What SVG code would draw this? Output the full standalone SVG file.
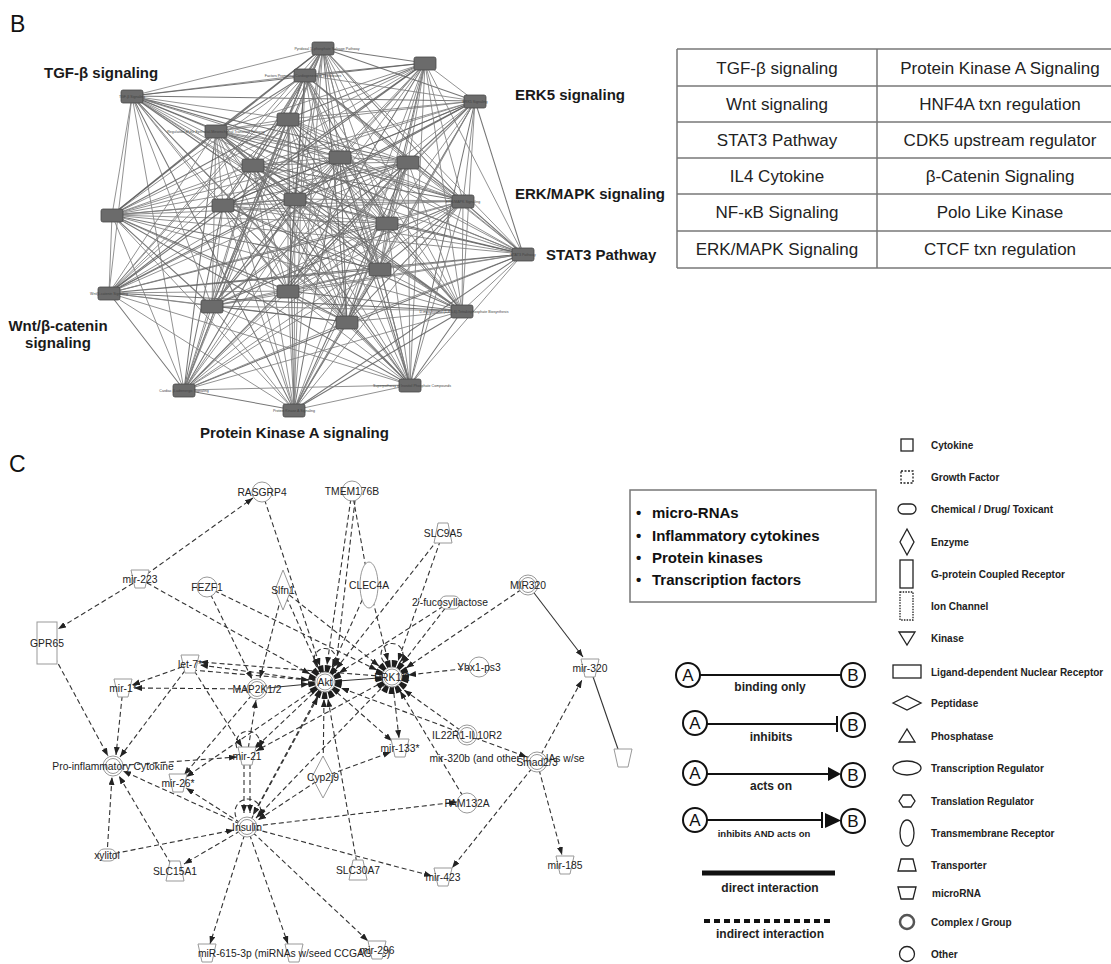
<svg xmlns="http://www.w3.org/2000/svg" width="1111" height="964" viewBox="0 0 1111 964">
<style>
text{font-family:"Liberation Sans",Arial,sans-serif}
.pl{font-size:23px;fill:#111}
.bl{font-size:15px;font-weight:bold;fill:#1a1a1a}
.ne{fill:none;stroke:#808080;stroke-width:.95;stroke-linejoin:round;opacity:.9}
.ne2{fill:none;stroke:#5e5e5e;stroke-width:1.05;stroke-linejoin:round;opacity:.85}
.nn{fill:#6b6b6b;stroke:#4a4a4a;stroke-width:.8}
.tl{font-size:3.6px;fill:#444;text-anchor:middle}
.tb{stroke:#777;stroke-width:1.5}
.tt{font-size:17px;fill:#222;text-anchor:middle}
.d{fill:none;stroke:#333;stroke-width:1.1;stroke-dasharray:5 3}
.s{fill:none;stroke:#333;stroke-width:1.1}
.nd{fill:#fff;stroke:#999;stroke-width:1}
.lb{font-size:10.3px;fill:#222;text-anchor:middle}
.lg{fill:none;stroke:#222;stroke-width:1.3}
.lt{font-size:10px;font-weight:bold;fill:#222}
.it{font-size:12px;font-weight:bold;fill:#222;text-anchor:middle}
.ab{fill:#fff;stroke:#111;stroke-width:2}
.abt{font-size:17px;fill:#111;text-anchor:middle}
.bx{font-size:15px;font-weight:bold;fill:#111}
</style>
<defs>
<marker id="a" markerWidth="8" markerHeight="6" refX="8" refY="3" orient="auto" markerUnits="userSpaceOnUse"><path d="M0 0L8 3L0 6Z" fill="#222"/></marker>
<path id="mir" d="M-9-9H9L5 9H-5Z" class="nd"/>
<path id="trn" d="M-5-10H5L9 10H-9Z" class="nd"/>
<circle id="oth" r="10" class="nd"/>
<g id="cpx"><circle r="10" class="nd"/><circle r="7.5" class="nd"/></g>
</defs>

<!-- Panel B -->
<text x="10" y="32" class="pl">B</text>
<g id="net-edges">
<polygon class="ne" points="295,199 323,48 305,75 410,385 425,63 294,410 475,101 184,390 132,96 462,311 288,119 347,322 216,131 212,306 253,165 288,291 340,157 109,293 408,162 523,254 223,205 380,269 387,223 112,215 463,201"/>
<polygon class="ne2" points="295,199 305,75 425,63 323,48 475,101 410,385 132,96 294,410 288,119 184,390 216,131 462,311 253,165 347,322 340,157 212,306 408,162 288,291 223,205 109,293 387,223 523,254 463,201 380,269 112,215"/>
<polygon class="ne" points="295,199 425,63 475,101 305,75 132,96 323,48 288,119 410,385 216,131 294,410 253,165 184,390 340,157 462,311 408,162 347,322 223,205 212,306 387,223 288,291 463,201 109,293 112,215 523,254 380,269"/>
<polygon class="ne2" points="295,199 475,101 132,96 425,63 288,119 305,75 216,131 323,48 253,165 410,385 340,157 294,410 408,162 184,390 223,205 462,311 387,223 347,322 463,201 212,306 112,215 288,291 380,269 109,293 523,254"/>
<polygon class="ne" points="295,199 132,96 288,119 475,101 216,131 425,63 253,165 305,75 340,157 323,48 408,162 410,385 223,205 294,410 387,223 184,390 463,201 462,311 112,215 347,322 380,269 212,306 523,254 288,291 109,293"/>
<polygon class="ne" points="295,199 288,119 216,131 132,96 253,165 475,101 340,157 425,63 408,162 305,75 223,205 323,48 387,223 410,385 463,201 294,410 112,215 184,390 380,269 462,311 523,254 347,322 109,293 212,306 288,291"/>
<polygon class="ne2" points="295,199 216,131 253,165 288,119 340,157 132,96 408,162 475,101 223,205 425,63 387,223 305,75 463,201 323,48 112,215 410,385 380,269 294,410 523,254 184,390 109,293 462,311 288,291 347,322 212,306"/>
<polygon class="ne" points="295,199 253,165 340,157 216,131 408,162 288,119 223,205 132,96 387,223 475,101 463,201 425,63 112,215 305,75 380,269 323,48 523,254 410,385 109,293 294,410 288,291 184,390 212,306 462,311 347,322"/>
<polygon class="ne" points="295,199 340,157 408,162 253,165 223,205 216,131 387,223 288,119 463,201 132,96 112,215 475,101 380,269 425,63 523,254 305,75 109,293 323,48 288,291 410,385 212,306 294,410 347,322 184,390 462,311"/>
<polygon class="ne2" points="295,199 408,162 223,205 340,157 387,223 253,165 463,201 216,131 112,215 288,119 380,269 132,96 523,254 475,101 109,293 425,63 288,291 305,75 212,306 323,48 347,322 410,385 462,311 294,410 184,390"/>
<polygon class="ne" points="295,199 223,205 387,223 408,162 463,201 340,157 112,215 253,165 380,269 216,131 523,254 288,119 109,293 132,96 288,291 475,101 212,306 425,63 347,322 305,75 462,311 323,48 184,390 410,385 294,410"/>
<polygon class="ne" points="295,199 387,223 463,201 223,205 112,215 408,162 380,269 340,157 523,254 253,165 109,293 216,131 288,291 288,119 212,306 132,96 347,322 475,101 462,311 425,63 184,390 305,75 294,410 323,48 410,385"/>
</g>
<g id="net-nodes">
<rect class="nn" x="312" y="42" width="22" height="13" rx="2"/>
<rect class="nn" x="294" y="69" width="22" height="13" rx="2"/>
<rect class="nn" x="414" y="57" width="22" height="13" rx="2"/>
<rect class="nn" x="464" y="95" width="22" height="13" rx="2"/>
<rect class="nn" x="121" y="90" width="22" height="13" rx="2"/>
<rect class="nn" x="277" y="113" width="22" height="13" rx="2"/>
<rect class="nn" x="205" y="125" width="22" height="13" rx="2"/>
<rect class="nn" x="242" y="159" width="22" height="13" rx="2"/>
<rect class="nn" x="329" y="151" width="22" height="13" rx="2"/>
<rect class="nn" x="397" y="156" width="22" height="13" rx="2"/>
<rect class="nn" x="212" y="199" width="22" height="13" rx="2"/>
<rect class="nn" x="284" y="193" width="22" height="13" rx="2"/>
<rect class="nn" x="376" y="217" width="22" height="13" rx="2"/>
<rect class="nn" x="452" y="195" width="22" height="13" rx="2"/>
<rect class="nn" x="101" y="209" width="22" height="13" rx="2"/>
<rect class="nn" x="369" y="263" width="22" height="13" rx="2"/>
<rect class="nn" x="512" y="248" width="22" height="13" rx="2"/>
<rect class="nn" x="98" y="287" width="22" height="13" rx="2"/>
<rect class="nn" x="277" y="285" width="22" height="13" rx="2"/>
<rect class="nn" x="201" y="300" width="22" height="13" rx="2"/>
<rect class="nn" x="336" y="316" width="22" height="13" rx="2"/>
<rect class="nn" x="451" y="305" width="22" height="13" rx="2"/>
<rect class="nn" x="173" y="384" width="22" height="13" rx="2"/>
<rect class="nn" x="283" y="404" width="22" height="13" rx="2"/>
<rect class="nn" x="399" y="379" width="22" height="13" rx="2"/>
<text class="tl" x="327" y="50">Pyridoxal 5'-phosphate Salvage Pathway</text>
<text class="tl" x="303" y="77">Factors Promoting Cardiogenesis in Vertebrates</text>
<text class="tl" x="132" y="98">TGF-β Signaling</text>
<text class="tl" x="216" y="133">Regulation of the Epithelial-Mesenchymal Transition Pathway</text>
<text class="tl" x="475" y="103">ERK5 Signaling</text>
<text class="tl" x="463" y="203">ERK/MAPK Signaling</text>
<text class="tl" x="523" y="256">STAT3 Pathway</text>
<text class="tl" x="109" y="295">Wnt/β-catenin Signaling</text>
<text class="tl" x="184" y="392">Cardiac β-adrenergic Signaling</text>
<text class="tl" x="294" y="412">Protein Kinase A Signaling</text>
<text class="tl" x="464" y="313">D-myo-inositol (1,4,5,6)-Tetrakisphosphate Biosynthesis</text>
<text class="tl" x="412" y="387">Superpathway of Inositol Phosphate Compounds</text>
</g>
<g id="b-labels">
<text x="44" y="78" class="bl">TGF-β signaling</text>
<text x="515" y="100" class="bl">ERK5 signaling</text>
<text x="515" y="199" class="bl">ERK/MAPK signaling</text>
<text x="546" y="260" class="bl">STAT3 Pathway</text>
<text x="58" y="331" class="bl" text-anchor="middle">Wnt/β-catenin</text>
<text x="58" y="348" class="bl" text-anchor="middle">signaling</text>
<text x="200" y="438" class="bl">Protein Kinase A signaling</text>
</g>
<g id="table">
<line class="tb" x1="677" y1="49" x2="1111" y2="49"/>
<line class="tb" x1="677" y1="86" x2="1111" y2="86"/>
<line class="tb" x1="677" y1="122" x2="1111" y2="122"/>
<line class="tb" x1="677" y1="158" x2="1111" y2="158"/>
<line class="tb" x1="677" y1="194" x2="1111" y2="194"/>
<line class="tb" x1="677" y1="231" x2="1111" y2="231"/>
<line class="tb" x1="677" y1="268" x2="1111" y2="268"/>
<line class="tb" x1="677" y1="49" x2="677" y2="268"/>
<line class="tb" x1="877" y1="49" x2="877" y2="268"/>
<text class="tt" x="777" y="74">TGF-β signaling</text>
<text class="tt" x="1000" y="74">Protein Kinase A Signaling</text>
<text class="tt" x="777" y="110">Wnt signaling</text>
<text class="tt" x="1000" y="110">HNF4A txn regulation</text>
<text class="tt" x="777" y="146">STAT3 Pathway</text>
<text class="tt" x="1000" y="146">CDK5 upstream regulator</text>
<text class="tt" x="777" y="182">IL4 Cytokine</text>
<text class="tt" x="1000" y="182">β-Catenin Signaling</text>
<text class="tt" x="777" y="218">NF-κB Signaling</text>
<text class="tt" x="1000" y="218">Polo Like Kinase</text>
<text class="tt" x="777" y="255">ERK/MAPK Signaling</text>
<text class="tt" x="1000" y="255">CTCF txn regulation</text>
</g>

<!-- Panel C -->
<text x="9" y="472" class="pl">C</text>
<g id="connectors">
<path class="d" d="M140 579L253 498" marker-end="url(#a)"/>
<path class="d" d="M140 579L58 629" marker-end="url(#a)"/>
<path class="d" d="M262 492L320 666" marker-end="url(#a)"/>
<path class="d" d="M140 579L310 674" marker-end="url(#a)"/>
<path class="d" d="M207 587L252 679" marker-end="url(#a)"/>
<path class="d" d="M207 587L377 670" marker-end="url(#a)"/>
<path class="d" d="M283 590L260 678" marker-end="url(#a)"/>
<path class="d" d="M283 590L318 667" marker-end="url(#a)"/>
<path class="d" d="M283 590L379 666" marker-end="url(#a)"/>
<path class="d" d="M352 491L327 665" marker-end="url(#a)"/>
<path class="d" d="M356 492L336 666" marker-end="url(#a)"/>
<path class="d" d="M352 491L369 585"/>
<path class="d" d="M369 585L388 661" marker-end="url(#a)"/>
<path class="d" d="M369 585L332 667" marker-end="url(#a)"/>
<path class="d" d="M443 533L336 669" marker-end="url(#a)"/>
<path class="d" d="M443 533L398 661" marker-end="url(#a)"/>
<path class="d" d="M450 602L402 664" marker-end="url(#a)"/>
<path class="d" d="M450 602L339 673" marker-end="url(#a)"/>
<path class="d" d="M528 585L406 668" marker-end="url(#a)"/>
<path class="s" d="M528 585L583 657" marker-end="url(#a)"/>
<path class="d" d="M479 667L408 675" marker-end="url(#a)"/>
<path class="d" d="M537 762L582 680" marker-end="url(#a)"/>
<path class="s" d="M590 668L619 752"/>
<path class="s" d="M325 682L392 677" stroke-width="1.6"/>
<path class="s" d="M257 689L309 684" marker-end="url(#a)"/>
<path class="d" d="M325 682L200 665" marker-end="url(#a)"/>
<path class="d" d="M392 677L200 662" marker-end="url(#a)"/>
<path class="d" d="M192 670L309 680" marker-end="url(#a)"/>
<path class="d" d="M257 689L134 688" marker-end="url(#a)"/>
<path class="d" d="M190 664L132 685" marker-end="url(#a)"/>
<path class="d" d="M123 688L116 755" marker-end="url(#a)"/>
<path class="d" d="M47 643L108 756" marker-end="url(#a)"/>
<path class="d" d="M190 664L120 757" marker-end="url(#a)"/>
<path class="d" d="M113 766L237 757" marker-end="url(#a)"/>
<path class="d" d="M247 827L123 771" marker-end="url(#a)"/>
<path class="d" d="M107 855L112 777" marker-end="url(#a)"/>
<path class="d" d="M175 871L119 776" marker-end="url(#a)"/>
<path class="d" d="M107 855L234 830" marker-end="url(#a)"/>
<path class="d" d="M247 827L184 864" marker-end="url(#a)"/>
<path class="d" d="M247 827L186 788" marker-end="url(#a)"/>
<path class="d" d="M257 689L184 775" marker-end="url(#a)"/>
<path class="d" d="M325 682L186 777" marker-end="url(#a)"/>
<path class="d" d="M247 756L256 700" marker-end="url(#a)"/>
<path class="d" d="M244 756L244 813" marker-end="url(#a)"/>
<path class="d" d="M250 756L250 813" marker-end="url(#a)"/>
<path class="d" d="M325 682L254 749" marker-end="url(#a)"/>
<path class="d" d="M392 677L256 751" marker-end="url(#a)"/>
<path class="d" d="M190 664L242 747" marker-end="url(#a)"/>
<path class="d" d="M325 682L253 815" marker-end="url(#a)"/>
<path class="d" d="M392 677L256 818" marker-end="url(#a)"/>
<path class="d" d="M247 827L318 697" marker-end="url(#a)"/>
<path class="d" d="M323 777L324 699" marker-end="url(#a)"/>
<path class="d" d="M323 777L258 820" marker-end="url(#a)"/>
<path class="d" d="M323 777L391 752" marker-end="url(#a)"/>
<path class="d" d="M325 682L392 741" marker-end="url(#a)"/>
<path class="d" d="M392 677L399 738" marker-end="url(#a)"/>
<path class="d" d="M467 735L404 690" marker-end="url(#a)"/>
<path class="d" d="M467 735L341 688" marker-end="url(#a)"/>
<path class="d" d="M467 735L527 757" marker-end="url(#a)"/>
<path class="d" d="M467 803L400 691" marker-end="url(#a)"/>
<path class="d" d="M247 827L457 802" marker-end="url(#a)"/>
<path class="d" d="M358 870L328 699" marker-end="url(#a)"/>
<path class="d" d="M247 827L432 876" marker-end="url(#a)"/>
<path class="d" d="M537 762L452 868" marker-end="url(#a)"/>
<path class="d" d="M537 762L562 855" marker-end="url(#a)"/>
<path class="d" d="M247 827L368 941" marker-end="url(#a)"/>
<path class="d" d="M247 827L288 944" marker-end="url(#a)"/>
<path class="d" d="M247 827L210 944" marker-end="url(#a)"/>
<path class="d" d="M317 667A11 11 0 1 1 333 667" marker-end="url(#a)"/>
<path class="d" d="M384 662A11 11 0 1 1 400 662" marker-end="url(#a)"/>
<path class="d" d="M237 748A12 12 0 1 1 259 748" marker-end="url(#a)"/>
<path class="d" d="M236 817A13 13 0 1 1 260 817" marker-end="url(#a)"/>
</g>

<g id="n-rasgrp4"><use href="#oth" x="262" y="492"/><text class="lb" x="262" y="496">RASGRP4</text></g>
<g id="n-tmem176b"><use href="#oth" x="352" y="491"/><text class="lb" x="352" y="495">TMEM176B</text></g>
<g id="n-mir223"><use href="#mir" x="140" y="579"/><text class="lb" x="140" y="583">mir-223</text></g>
<g id="n-fezf1"><use href="#oth" x="207" y="587"/><text class="lb" x="207" y="591">FEZF1</text></g>
<g id="n-slfn1"><path class="nd" d="M283 570L291 590L283 610L275 590Z"/><text class="lb" x="283" y="594">Slfn1</text></g>
<g id="n-gpr65"><rect class="nd" x="37" y="622" width="20" height="42"/><text class="lb" x="47" y="647">GPR65</text></g>
<g id="n-clec4a"><ellipse class="nd" cx="369" cy="585" rx="9" ry="23"/><text class="lb" x="369" y="589">CLEC4A</text></g>
<g id="n-slc9a5"><use href="#trn" x="443" y="533"/><text class="lb" x="443" y="537">SLC9A5</text></g>
<g id="n-fuc"><rect class="nd" x="440" y="596" width="20" height="13" rx="6"/><text class="lb" x="450" y="606">2'-fucosyllactose</text></g>
<g id="n-mir320cpx"><use href="#cpx" x="528" y="585"/><text class="lb" x="528" y="589">MIR320</text></g>
<g id="n-let7"><use href="#mir" x="190" y="664"/><text class="lb" x="190" y="668">let-7*</text></g>
<g id="n-mir1"><use href="#mir" x="123" y="688"/><text class="lb" x="123" y="692">mir-1*</text></g>
<g id="n-map2k"><use href="#cpx" x="257" y="689"/><text class="lb" x="257" y="693">MAP2K1/2</text></g>
<g id="n-akt"><circle cx="325" cy="682" r="13.5" fill="none" stroke="#1e1e1e" stroke-width="7" stroke-dasharray="5 1.3"/><circle class="nd" cx="325" cy="682" r="10"/><circle class="nd" cx="325" cy="682" r="8"/><text class="lb" x="325" y="686">Akt</text></g>
<g id="n-erk"><circle cx="392" cy="677" r="13.5" fill="none" stroke="#1e1e1e" stroke-width="7" stroke-dasharray="5 1.3"/><circle class="nd" cx="392" cy="677" r="10"/><circle class="nd" cx="392" cy="677" r="8"/><text class="lb" x="392" y="681">ERK1/2</text></g>
<g id="n-ybx1"><use href="#oth" x="479" y="667"/><text class="lb" x="479" y="671">Ybx1-ps3</text></g>
<g id="n-mir320"><use href="#mir" x="590" y="668"/><text class="lb" x="590" y="672">mir-320</text></g>
<g id="n-pic"><use href="#cpx" x="113" y="766"/><text class="lb" x="113" y="770">Pro-inflammatory Cytokine</text></g>
<g id="n-mir21"><use href="#mir" x="247" y="756"/><text class="lb" x="247" y="760">mir-21</text></g>
<g id="n-mir26"><use href="#mir" x="178" y="783"/><text class="lb" x="178" y="787">mir-26*</text></g>
<g id="n-cyp2j9"><path class="nd" d="M323 756L334 777L323 798L312 777Z"/><text class="lb" x="323" y="781">Cyp2j9</text></g>
<g id="n-mir133"><use href="#mir" x="400" y="748"/><text class="lb" x="400" y="752">mir-133*</text></g>
<g id="n-il22r1"><use href="#cpx" x="467" y="735"/><text class="lb" x="467" y="739">IL22R1-IL10R2</text></g>
<g id="n-mir320b"><use href="#mir" x="623" y="758"/><text class="lb" x="507" y="762" text-anchor="start">mir-320b (and other miRNAs w/se</text></g>
<g id="n-smad"><use href="#cpx" x="537" y="762"/><text class="lb" x="537" y="766">Smad2/3</text></g>
<g id="n-fam132a"><use href="#oth" x="467" y="803"/><text class="lb" x="467" y="807">FAM132A</text></g>
<g id="n-insulin"><use href="#cpx" x="247" y="827"/><text class="lb" x="247" y="831">Insulin</text></g>
<g id="n-xylitol"><rect class="nd" x="98" y="849" width="18" height="12" rx="6"/><text class="lb" x="107" y="859">xylitol</text></g>
<g id="n-slc15a1"><use href="#trn" x="175" y="871"/><text class="lb" x="175" y="875">SLC15A1</text></g>
<g id="n-slc30a7"><use href="#trn" x="358" y="870"/><text class="lb" x="358" y="874">SLC30A7</text></g>
<g id="n-mir423"><use href="#mir" x="443" y="877"/><text class="lb" x="443" y="881">mir-423</text></g>
<g id="n-mir185"><use href="#mir" x="565" y="865"/><text class="lb" x="565" y="869">mir-185</text></g>
<g id="n-mira"><use href="#mir" x="207" y="953"/></g>
<g id="n-mir615"><use href="#mir" x="294" y="953"/><text class="lb" x="294" y="957">miR-615-3p (miRNAs w/seed CCGAGCC)</text></g>
<g id="n-mir296"><use href="#mir" x="377" y="950"/><text class="lb" x="377" y="954">mir-296</text></g>

<!-- Legend box -->
<g id="legend-box">
<rect x="630" y="490" width="246" height="112" fill="#fff" stroke="#777" stroke-width="1.5"/>
<text class="bx" x="636" y="518">•</text><text class="bx" x="652" y="518">micro-RNAs</text>
<text class="bx" x="636" y="541">•</text><text class="bx" x="652" y="541">Inflammatory cytokines</text>
<text class="bx" x="636" y="563">•</text><text class="bx" x="652" y="563">Protein kinases</text>
<text class="bx" x="636" y="585">•</text><text class="bx" x="652" y="585">Transcription factors</text>
</g>

<!-- Interaction legend -->
<g id="legend-edges">
<line x1="700" y1="675" x2="841" y2="675" stroke="#111" stroke-width="2"/>
<circle class="ab" cx="688" cy="675" r="12"/><text class="abt" x="688" y="681">A</text>
<circle class="ab" cx="853" cy="675" r="12"/><text class="abt" x="853" y="681">B</text>
<text class="it" x="770" y="691">binding only</text>

<line x1="707" y1="724" x2="837" y2="724" stroke="#111" stroke-width="2"/>
<line x1="837" y1="716" x2="837" y2="732" stroke="#111" stroke-width="2"/>
<circle class="ab" cx="695" cy="723" r="12"/><text class="abt" x="695" y="729">A</text>
<circle class="ab" cx="853" cy="725" r="12"/><text class="abt" x="853" y="731">B</text>
<text class="it" x="771" y="741">inhibits</text>

<line x1="707" y1="774" x2="830" y2="774" stroke="#111" stroke-width="2"/>
<path d="M828 767L841 774L828 781Z" fill="#111"/>
<circle class="ab" cx="695" cy="773" r="12"/><text class="abt" x="695" y="779">A</text>
<circle class="ab" cx="853" cy="775" r="12"/><text class="abt" x="853" y="781">B</text>
<text class="it" x="771" y="790">acts on</text>

<line x1="707" y1="820" x2="822" y2="820" stroke="#111" stroke-width="2"/>
<line x1="822" y1="812" x2="822" y2="828" stroke="#111" stroke-width="2"/>
<path d="M825 813L841 820.5L825 828Z" fill="#111"/>
<circle class="ab" cx="695" cy="820" r="12"/><text class="abt" x="695" y="826">A</text>
<circle class="ab" cx="853" cy="821" r="12"/><text class="abt" x="853" y="827">B</text>
<text class="it" x="764" y="837" style="font-size:9.5px">inhibits AND acts on</text>

<line x1="702" y1="873" x2="835" y2="873" stroke="#111" stroke-width="5"/>
<text class="it" x="770" y="892">direct interaction</text>
<line x1="704" y1="921" x2="833" y2="921" stroke="#111" stroke-width="4" stroke-dasharray="6 4"/>
<text class="it" x="770" y="938">indirect interaction</text>
</g>

<!-- Shape legend -->
<g id="legend-shapes">
<rect class="lg" x="901" y="439" width="12" height="12"/><text class="lt" x="931" y="449">Cytokine</text>
<rect class="lg" x="901" y="471" width="12" height="12" stroke-dasharray="2 1.5"/><text class="lt" x="931" y="481">Growth Factor</text>
<rect class="lg" x="898" y="504" width="18" height="10" rx="5"/><text class="lt" x="931" y="513">Chemical / Drug/ Toxicant</text>
<path class="lg" d="M907 529L914 542L907 555L900 542Z"/><text class="lt" x="931" y="546">Enzyme</text>
<rect class="lg" x="900" y="560" width="13" height="28"/><text class="lt" x="931" y="578">G-protein Coupled Receptor</text>
<rect class="lg" x="900" y="592" width="13" height="28" stroke-dasharray="1.5 1.2"/><text class="lt" x="931" y="610">Ion Channel</text>
<path class="lg" d="M899 632H915L907 645Z"/><text class="lt" x="931" y="642">Kinase</text>
<rect class="lg" x="893" y="665" width="28" height="13"/><text class="lt" x="931" y="676">Ligand-dependent Nuclear Receptor</text>
<path class="lg" d="M893 703L907 696L921 703L907 710Z"/><text class="lt" x="931" y="707">Peptidase</text>
<path class="lg" d="M899 742L907 729L915 742Z"/><text class="lt" x="931" y="740">Phosphatase</text>
<ellipse class="lg" cx="907" cy="768" rx="14" ry="7"/><text class="lt" x="931" y="772">Transcription Regulator</text>
<path class="lg" d="M899 801L903 795H911L915 801L911 807H903Z"/><text class="lt" x="931" y="805">Translation  Regulator</text>
<ellipse class="lg" cx="907" cy="833" rx="7" ry="13"/><text class="lt" x="931" y="837">Transmembrane  Receptor</text>
<path class="lg" d="M901 859H913L916 871H898Z"/><text class="lt" x="931" y="869">Transporter</text>
<path class="lg" d="M898 887H916L913 899H901Z"/><text class="lt" x="932" y="897">microRNA</text>
<circle cx="907" cy="922" r="7" fill="none" stroke="#555" stroke-width="2.5"/><text class="lt" x="931" y="926">Complex / Group</text>
<circle class="lg" cx="907" cy="954" r="7.5"/><text class="lt" x="931" y="958">Other</text>
</g>
</svg>
